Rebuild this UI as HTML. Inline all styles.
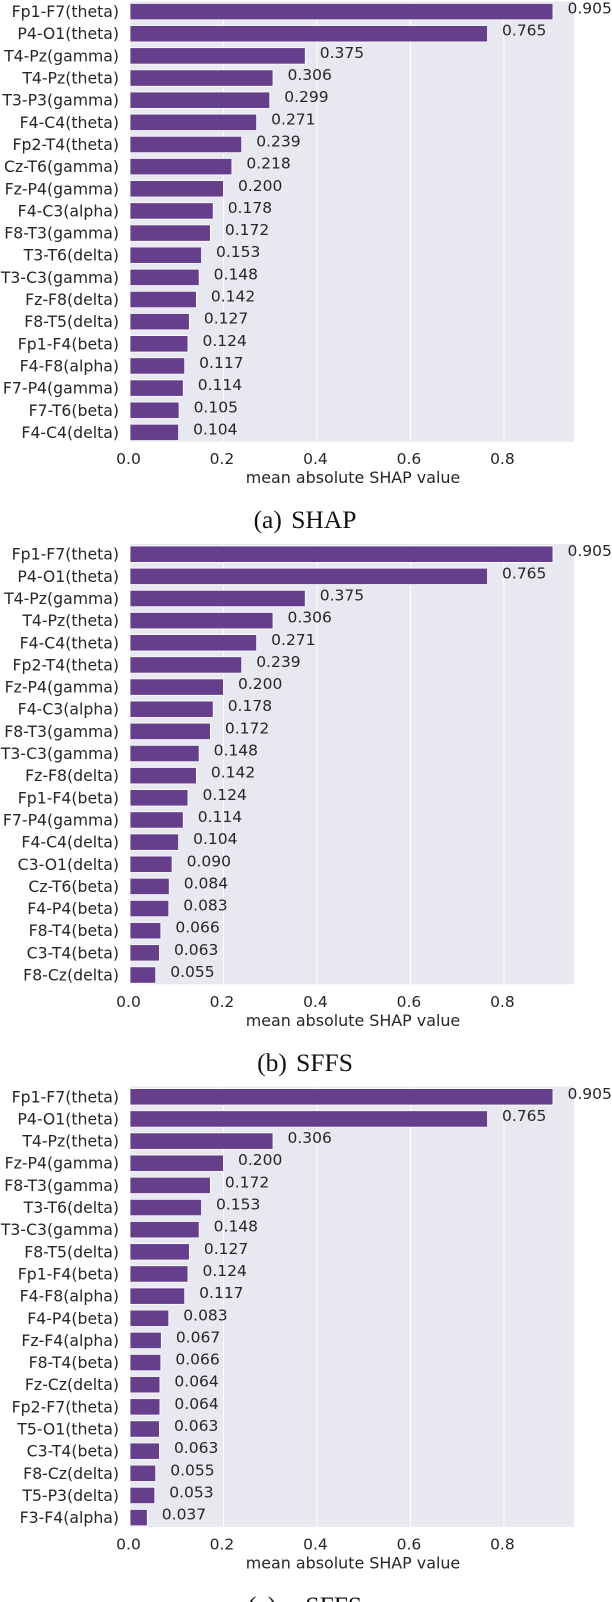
<!DOCTYPE html>
<html lang="en">
<head>
<meta charset="utf-8">
<title>Mean absolute SHAP value charts</title>
<style>
html,body{margin:0;padding:0;background:#fff;width:612px;height:1602px;overflow:hidden}
svg{display:block}
text{font-family:"DejaVu Sans",sans-serif;fill:#262626}
.caption{font-family:"Liberation Serif",serif;fill:#111;font-size:25.5px;word-spacing:3px}
</style>
</head>
<body>
<svg id="figure" width="612" height="1602" viewBox="0 0 612 1602" xmlns="http://www.w3.org/2000/svg"></svg>
<script>
const shapLabels = ["Fp1-F7(theta)","P4-O1(theta)","T4-Pz(gamma)","T4-Pz(theta)","T3-P3(gamma)","F4-C4(theta)","Fp2-T4(theta)","Cz-T6(gamma)","Fz-P4(gamma)","F4-C3(alpha)","F8-T3(gamma)","T3-T6(delta)","T3-C3(gamma)","Fz-F8(delta)","F8-T5(delta)","Fp1-F4(beta)","F4-F8(alpha)","F7-P4(gamma)","F7-T6(beta)","F4-C4(delta)"];
const shapValues = [0.905,0.765,0.375,0.306,0.299,0.271,0.239,0.218,0.200,0.178,0.172,0.153,0.148,0.142,0.127,0.124,0.117,0.114,0.105,0.104];
const sffsLabels = ["Fp1-F7(theta)","P4-O1(theta)","T4-Pz(gamma)","T4-Pz(theta)","F4-C4(theta)","Fp2-T4(theta)","Fz-P4(gamma)","F4-C3(alpha)","F8-T3(gamma)","T3-C3(gamma)","Fz-F8(delta)","Fp1-F4(beta)","F7-P4(gamma)","F4-C4(delta)","C3-O1(delta)","Cz-T6(beta)","F4-P4(beta)","F8-T4(beta)","C3-T4(beta)","F8-Cz(delta)"];
const sffsValues = [0.905,0.765,0.375,0.306,0.271,0.239,0.200,0.178,0.172,0.148,0.142,0.124,0.114,0.104,0.090,0.084,0.083,0.066,0.063,0.055];
const msffsLabels = ["Fp1-F7(theta)","P4-O1(theta)","T4-Pz(theta)","Fz-P4(gamma)","F8-T3(gamma)","T3-T6(delta)","T3-C3(gamma)","F8-T5(delta)","Fp1-F4(beta)","F4-F8(alpha)","F4-P4(beta)","Fz-F4(alpha)","F8-T4(beta)","Fz-Cz(delta)","Fp2-F7(theta)","T5-O1(theta)","C3-T4(beta)","F8-Cz(delta)","T5-P3(delta)","F3-F4(alpha)"];
const msffsValues = [0.905,0.765,0.306,0.200,0.172,0.153,0.148,0.127,0.124,0.117,0.083,0.067,0.066,0.064,0.064,0.063,0.063,0.055,0.053,0.037];
const xTicks = [0,0.2,0.4,0.6,0.8];
const xMax = 0.95;

const NS = "http://www.w3.org/2000/svg";
const figure = document.getElementById("figure");
const plotLeft = 130, plotRight = 574, plotHeight = 440.3;
const firstOffset = 10.2, barHeight = 16.4;
const xScale = v => plotLeft + v / xMax * (plotRight - plotLeft);

function make(parent, tag, attrs, content) {
  const el = document.createElementNS(NS, tag);
  for (const k in attrs) el.setAttribute(k, attrs[k]);
  if (content !== undefined) el.textContent = content;
  parent.appendChild(el);
  return el;
}

function drawChart(key, top, labels, values, caption, captionY) {
  const band = (plotHeight - firstOffset - 9.3) / (labels.length - 1);
  const yScale = i => top + firstOffset + band * i;
  const g = make(figure, "g", {});
  
  

  const bg = make(g, "rect", {x: plotLeft, y: top, width: plotRight - plotLeft, height: plotHeight, fill: "#e8e8f1"});
  
  

  xTicks.forEach(t => {
    const line = make(g, "line", {x1: xScale(t), x2: xScale(t), y1: top, y2: top + plotHeight, stroke: "#fff", "stroke-width": 1});
    
    
    const tick = make(g, "text", {x: xScale(t) - 1.5, y: top + plotHeight + 22.5, "text-anchor": "middle", "font-size": 15.5}, t.toFixed(1));
    
    
  });

  values.forEach((v, i) => {
    const cy = yScale(i);
    const bar = make(g, "rect", {x: plotLeft, y: cy - barHeight / 2, width: xScale(v) - plotLeft, height: barHeight, fill: "#663f8c", stroke: "#fff", "stroke-width": 0.8});
    
    
    const lab = make(g, "text", {x: 119, y: cy + 5.5, "text-anchor": "end", "font-size": 15.7}, labels[i]);
    
    
    const val = make(g, "text", {x: xScale(v) + 14.5, y: cy + 2, "font-size": 15.5}, v.toFixed(3));
    
    
  });

  const xl = make(g, "text", {x: (plotLeft + plotRight) / 2 + 1, y: top + plotHeight + 41.5, "text-anchor": "middle", "font-size": 15.9}, "mean absolute SHAP value");
  
  

  const cap = make(g, "text", {x: 305, y: captionY, "text-anchor": "middle", "class": "caption"}, caption);
  
  
}

drawChart("shap", 1.4, shapLabels, shapValues, "(a) SHAP", 528);
drawChart("sffs", 544, sffsLabels, sffsValues, "(b) SFFS", 1071);
drawChart("msffs", 1086.6, msffsLabels, msffsValues, "(c) mSFFS", 1614);
</script>
</body>
</html>
